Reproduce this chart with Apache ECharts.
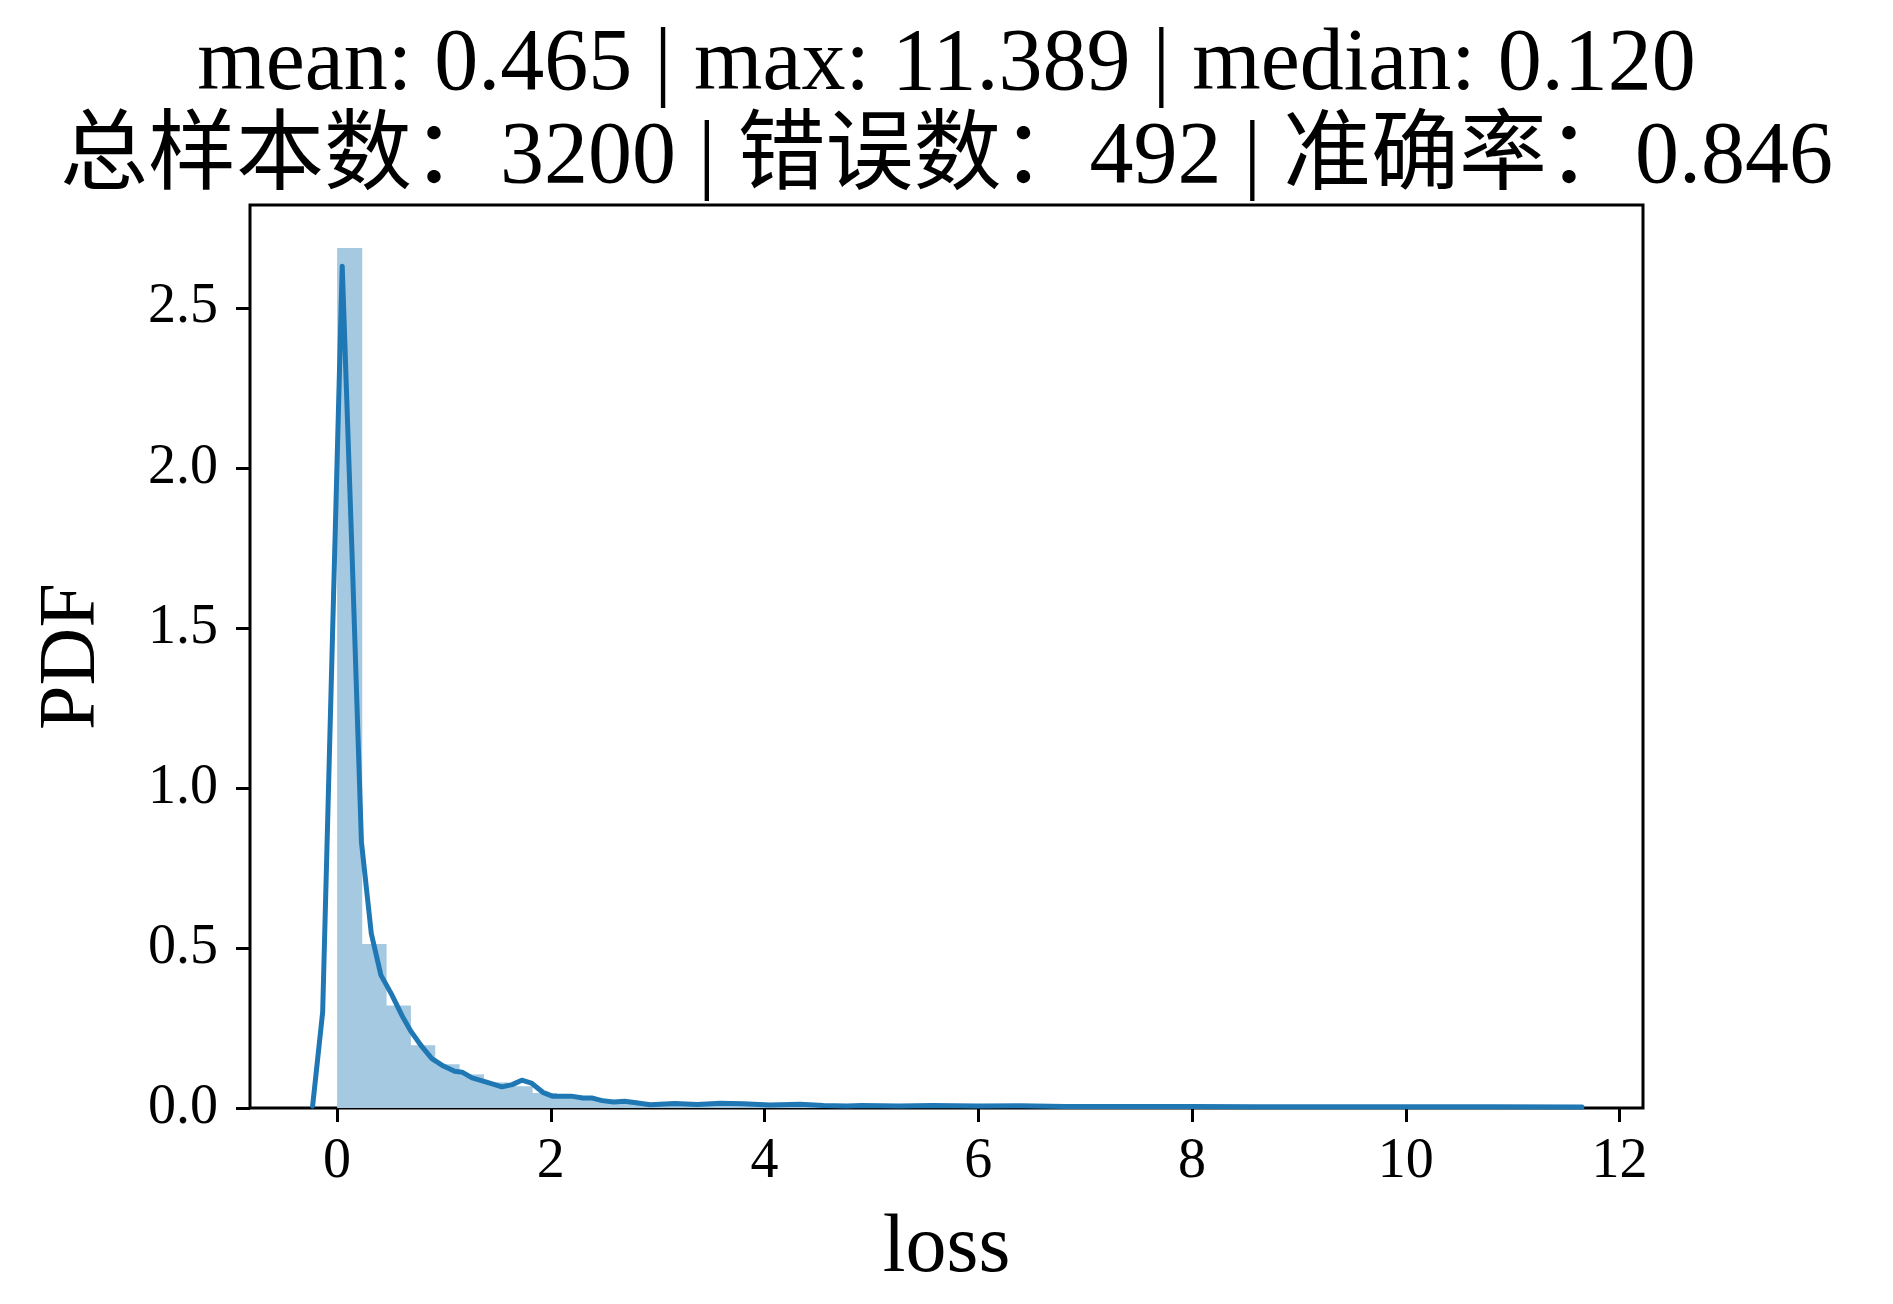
<!DOCTYPE html>
<html>
<head>
<meta charset="utf-8">
<script src="https://cdn.jsdelivr.net/npm/echarts@6/dist/echarts.min.js"></script>
<style>
html,body{margin:0;padding:0;background:#fff;}
#chart{width:1893px;height:1304px;}
</style>
</head>
<body>
<div id="chart"></div>
<script>
// ---- data ----
const titleLine1 = "mean: 0.465 | max: 11.389 | median: 0.120";
const titleLine2 = "总样本数：3200 | 错误数：492 | 准确率：0.846";
const xName = "loss";
const yName = "PDF";
const xTicks = [0, 2, 4, 6, 8, 10, 12];
const yTicks = [0, 0.5, 1.0, 1.5, 2.0, 2.5];

// histogram (density), 50 bins from 0 to max loss
const histMin = 0;
const histMax = 11.389;
const histHeights = [2.687, 0.512, 0.320, 0.196, 0.137, 0.105, 0.080, 0.068, 0.047, 0.038,
  0.030, 0.020, 0.015, 0.012, 0.012, 0.014, 0.013, 0.010, 0.010, 0.011,
  0.008, 0.007, 0.008, 0.007, 0.007, 0.006, 0.006, 0.005, 0.005, 0.005,
  0.004, 0.004, 0.004, 0.004, 0.004, 0.003, 0.004, 0.003, 0.003, 0.003,
  0.003, 0.003, 0.003, 0.003, 0.003, 0.003, 0.003, 0.001, 0.001, 0.001];

// KDE curve
const kdeX = [-0.229, -0.135, -0.045, 0.048, 0.14, 0.228, 0.32, 0.41, 0.51, 0.61,
  0.69, 0.79, 0.887, 0.995, 1.10, 1.17, 1.263, 1.406, 1.542, 1.639,
  1.728, 1.818, 1.925, 2.014, 2.19, 2.30, 2.39, 2.48, 2.59, 2.69,
  2.78, 2.93, 3.16, 3.37, 3.59, 3.80, 4.05, 4.33, 4.55, 4.77,
  4.91, 5.26, 5.57, 6.0, 6.39, 6.81, 7.3, 8.0, 8.6, 9.2,
  10.0, 10.8, 11.65];
const kdeY = [0.006, 0.30, 1.45, 2.63, 1.73, 0.83, 0.545, 0.415, 0.355, 0.287,
  0.24, 0.193, 0.154, 0.131, 0.115, 0.112, 0.094, 0.080, 0.066, 0.073,
  0.087, 0.078, 0.049, 0.037, 0.037, 0.031, 0.031, 0.023, 0.019, 0.021,
  0.017, 0.010, 0.014, 0.011, 0.015, 0.013, 0.009, 0.012, 0.008, 0.006,
  0.008, 0.006, 0.008, 0.006, 0.007, 0.005, 0.005, 0.005, 0.004, 0.004,
  0.004, 0.004, 0.003];

// ---- build ----
const nBins = histHeights.length;
const binW = (histMax - histMin) / nBins;
const histData = histHeights.map((h, i) => [histMin + i * binW, histMin + (i + 1) * binW, h]);
const kdeData = kdeX.map((x, i) => [x, kdeY[i]]);

const FONT = "'Liberation Serif', 'Noto Sans CJK SC', serif";
const chart = echarts.init(document.getElementById('chart'), null, {renderer: 'canvas'});
chart.setOption({
  backgroundColor: '#fff',
  animation: false,
  title: {
    text: titleLine1 + "\n" + titleLine2,
    left: 'center',
    top: 14,
    textStyle: {fontFamily: FONT, fontSize: 88, fontWeight: 'normal', color: '#000', lineHeight: 93}
  },
  grid: {
    left: 250, top: 205, width: 1393, height: 903,
    outerBoundsMode: 'none', containLabel: false,
    show: true, borderColor: '#000', borderWidth: 3, backgroundColor: 'transparent'
  },
  xAxis: {
    type: 'value', min: -0.815, max: 12.22,
    splitLine: {show: false},
    axisLine: {show: false, onZero: false},
    axisTick: {show: true, customValues: xTicks, length: 14, lineStyle: {color: '#000', width: 3}},
    axisLabel: {customValues: xTicks, fontFamily: FONT, fontSize: 56, color: '#000', margin: 26},
    name: xName, nameLocation: 'middle', nameGap: 100,
    nameTextStyle: {fontFamily: FONT, fontSize: 82, color: '#000'}
  },
  yAxis: {
    type: 'value', min: 0, max: 2.821,
    splitLine: {show: false},
    axisLine: {show: false, onZero: false},
    axisTick: {show: true, customValues: yTicks, length: 14, lineStyle: {color: '#000', width: 3}},
    axisLabel: {customValues: yTicks, fontFamily: FONT, fontSize: 56, color: '#000', margin: 32,
      formatter: v => Number(v).toFixed(1)},
    name: yName, nameLocation: 'middle', nameGap: 137, nameRotate: 90,
    nameTextStyle: {fontFamily: FONT, fontSize: 80, color: '#000'}
  },
  series: [
    {
      type: 'custom',
      data: histData,
      encode: {x: [0, 1], y: 2},
      z: 1,
      renderItem: function (params, api) {
        const top = api.coord([api.value(0), api.value(2)]);
        const bot = api.coord([api.value(1), 0]);
        return {
          type: 'rect',
          shape: {x: top[0], y: top[1], width: bot[0] - top[0] + 0.8, height: bot[1] - top[1]},
          style: {fill: '#a5c9e1'}
        };
      }
    },
    {
      type: 'line',
      data: kdeData,
      showSymbol: false,
      smooth: false,
      z: 3,
      lineStyle: {color: '#1f77b4', width: 5, cap: 'round', join: 'round'}
    }
  ]
});
</script>
</body>
</html>
